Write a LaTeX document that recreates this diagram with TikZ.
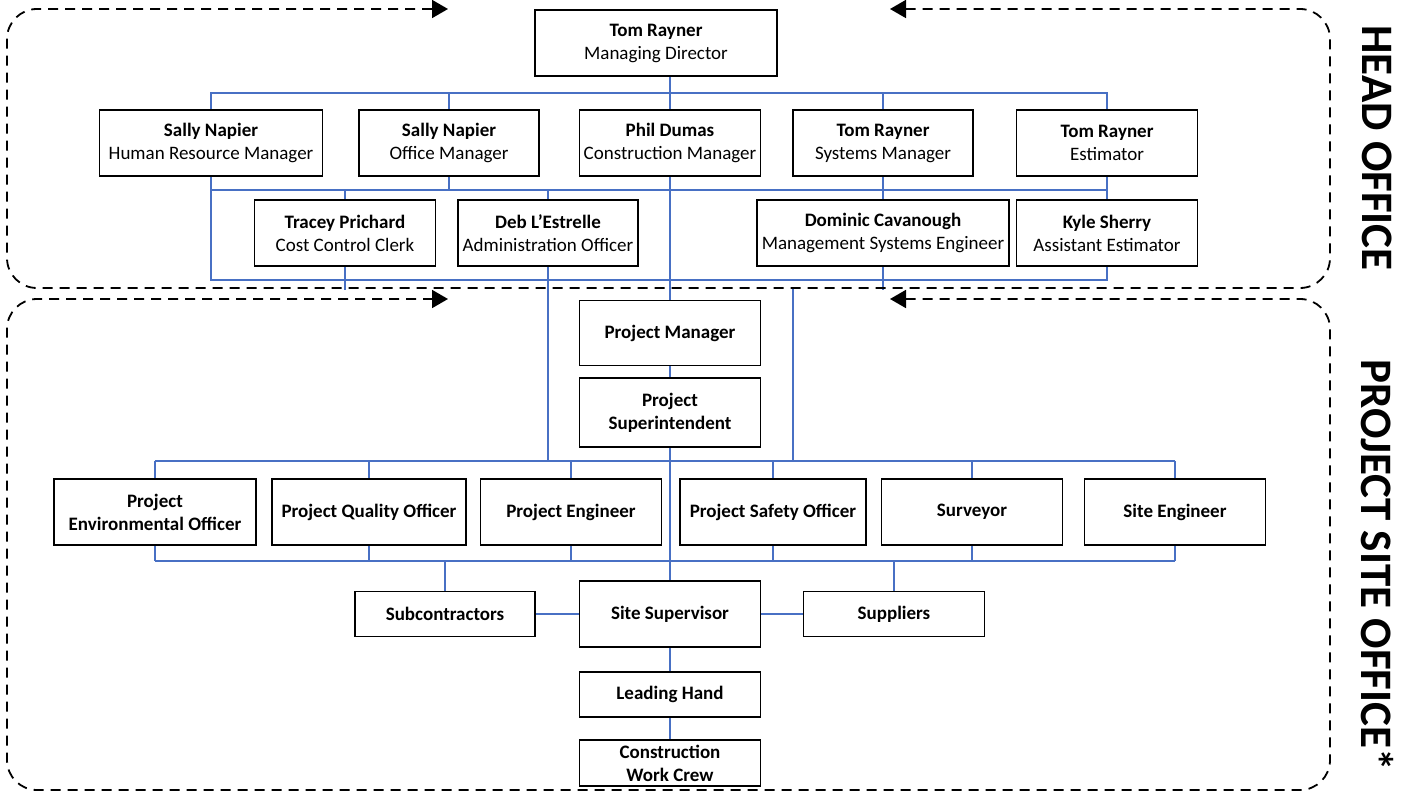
\documentclass[tikz,border=0pt]{standalone}
\usepackage{fontspec}
\setmainfont{Carlito}
\usetikzlibrary{arrows.meta,backgrounds}
\definecolor{linkblue}{RGB}{72,112,196}
\begin{document}
\begin{tikzpicture}[x=1pt, y=-1pt,
		person/.style={draw, fill=white, line width=1.5pt, minimum height=66, align=center, inner sep=1pt, font=\fontsize{19}{23}\selectfont},
		role/.style={person, font=\fontsize{19}{23}\selectfont\bfseries},
		heavy/.style={line width=2.3pt},
		link/.style={draw=linkblue, line width=1.8pt},
		region/.style={dash pattern=on 10pt off 7pt, line width=1.8pt, rounded corners=30pt, {Triangle[length=16pt,width=18pt]}-{Triangle[length=16pt,width=18pt]}},
		sidelabel/.style={rotate=-90, font=\fontsize{45}{45}\selectfont\bfseries},
	]
	\path[use as bounding box] (0,0) rectangle (1410,794);
	\node[person, heavy, minimum width=242] (md) at (656,43) {\textbf{Tom Rayner}\\Managing Director};
	\node[person, minimum width=223] (hrm) at (211,143) {\textbf{Sally Napier}\\Human Resource Manager};
	\node[person, minimum width=180] (om) at (449,143) {\textbf{Sally Napier}\\Office Manager};
	\node[person, minimum width=181] (cm) at (670,143) {\textbf{Phil Dumas}\\Construction Manager};
	\node[person, minimum width=180] (sm) at (883,143) {\textbf{Tom Rayner}\\Systems Manager};
	\node[person, minimum width=181] (est) at (1107,143) {\textbf{Tom Rayner}\\Estimator};
	\node[person, minimum width=181] (tp) at (345,233) {\textbf{Tracey Prichard}\\Cost Control Clerk};
	\node[person, minimum width=180] (deb) at (548,233) {\textbf{Deb L’Estrelle}\\Administration Officer};
	\node[person, heavy, minimum width=252] (dc) at (883,233) {\textbf{Dominic Cavanough}\\Management Systems Engineer};
	\node[person, minimum width=181] (ks) at (1107,233) {\textbf{Kyle Sherry}\\Assistant Estimator};
	\node[role, minimum width=181, minimum height=65] (pm) at (670,333) {Project Manager};
	\node[role, minimum width=181, minimum height=69] (ps) at (670,412.5) {Project\\Superintendent};
	\node[role, minimum width=202] (env) at (155,512) {Project\\Environmental Officer};
	\node[role, minimum width=194] (pqo) at (369,512) {Project Quality Officer};
	\node[role, minimum width=181] (pe) at (571,512) {Project Engineer};
	\node[role, minimum width=186] (pso) at (773,512) {Project Safety Officer};
	\node[role, minimum width=181] (sv) at (972,512) {Surveyor};
	\node[role, minimum width=181] (se) at (1175,512) {Site Engineer};
	\node[role, minimum width=180, minimum height=45] (sc) at (445,614) {Subcontractors};
	\node[role, minimum width=181] (ss) at (670,614) {Site Supervisor};
	\node[role, minimum width=181, minimum height=45] (sup) at (894,614) {Suppliers};
	\node[role, minimum width=181, minimum height=45] (lh) at (670,694.5) {Leading Hand};
	\node[role, minimum width=181, minimum height=46] (cwc) at (670,763) {Construction\\Work Crew};
	\node[sidelabel] (holabel) at (1377,148) {HEAD OFFICE};
	\node[sidelabel] (psolabel) at (1377,565) {PROJECT SITE OFFICE*};
	\begin{pgfonlayer}{background}
		\coordinate (topbus) at (0,93);
		\coordinate (midbus) at (0,190);
		\coordinate (lowbus) at (0,280);
		\coordinate (cut) at (0,290);
		\coordinate (sitebus) at (0,461);
		\coordinate (crewbus) at (0,561);
		\coordinate (stub) at (793,288);
		\draw[link] (hrm |- topbus) rectangle (est |- lowbus);
		\draw[link] (hrm |- midbus) -- (est |- midbus);
		\draw[link] (cm |- md.south) -- (pm.north);
		\draw[link] (om |- topbus) -- (om |- midbus);
		\draw[link] (sm |- topbus) -- (dc.south) -- (dc |- cut);
		\draw[link] (tp |- midbus) -- (tp |- cut);
		\draw[link] (deb |- midbus) -- (deb |- sitebus);
		\draw[link] (stub) -- (stub |- sitebus);
		\draw[link] (pm) -- (ps) -- (ss) -- (lh) -- (cwc);
		\draw[link] (env |- sitebus) -- (se |- sitebus);
		\draw[link] (env |- crewbus) -- (se |- crewbus);
		\foreach \n in {env,pqo,pe,pso,sv,se}
			\draw[link] (\n |- sitebus) -- (\n |- crewbus);
		\draw[link] (sc |- crewbus) -- (sc) -- (ss) -- (sup) -- (sup |- crewbus);
	\end{pgfonlayer}
	\draw[region] (890,9) -- (1330,9) -- (1330,288) -- (7,288) -- (7,9) -- (448,9);
	\draw[region] (890,299) -- (1330,299) -- (1330,790) -- (7,790) -- (7,299) -- (448,299);
\end{tikzpicture}
\end{document}
